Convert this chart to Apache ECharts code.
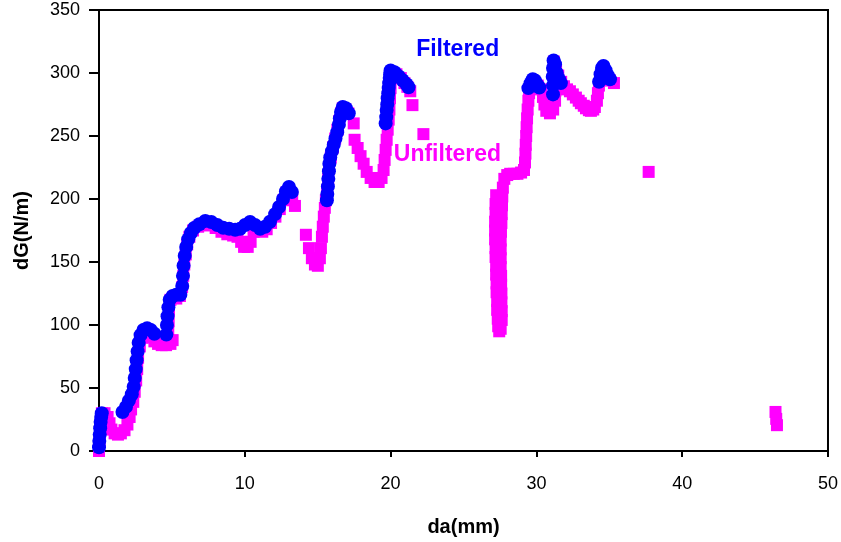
<!DOCTYPE html>
<html>
<head>
<meta charset="utf-8">
<script src="https://cdn.jsdelivr.net/npm/echarts@6/dist/echarts.min.js"></script>
<style>html,body{margin:0;padding:0;background:#fff}#c{width:841px;height:542px}</style>
</head>
<body>
<div id="c"></div>
<script>
// Unfiltered (magenta squares)
const unfilteredX = [0,0,0.04,0.07,0.11,0.15,0.2,0.38,0.59,0.72,0.85,1.07,1.3,1.5,1.75,1.95,2.1,2.2,2.35,2.45,2.55,2.62,2.68,2.8,2.95,3.2,3.5,3.8,4.05,4.3,4.6,4.9,5.05,4.75,4.78,4.8,4.9,5.1,5.3,5.55,5.7,5.78,5.85,5.95,6.05,6.2,6.45,6.8,7.2,7.6,8.0,8.4,8.8,9.2,9.5,9.75,9.95,10.2,10.4,10.6,10.9,11.2,11.5,11.8,12.1,12.4,12.65,12.85,13.05,13.25,13.44,14.19,
  14.4,14.6,14.81,15.01,15.15,15.22,15.29,15.35,15.42,15.49,15.56,15.65,15.72,15.78,15.9,16.05,16.2,16.35,16.48,16.6,16.72,16.9,17.1,17.47,17.53,17.74,17.94,18.15,18.36,18.63,18.9,19.18,19.38,19.52,19.59,19.66,19.73,19.8,19.87,19.92,19.96,20.0,20.05,20.15,20.4,20.7,20.95,21.15,21.35,21.5,22.25,
  27.24,27.2,27.2,27.17,27.17,27.17,27.2,27.2,27.24,27.24,27.27,27.27,27.31,27.31,27.35,27.38,27.45,27.55,27.62,27.62,27.6,27.6,27.58,27.58,27.55,27.55,27.55,27.55,27.57,27.6,27.62,27.64,27.66,27.7,27.8,28.0,28.2,28.45,28.7,28.95,29.15,29.22,29.25,29.27,29.3,29.33,29.36,29.4,29.45,29.5,29.6,29.84,30.1,30.32,30.45,30.55,30.68,30.93,31.15,31.28,31.3,31.32,31.35,31.2,31.5,31.7,31.89,32.1,32.3,32.5,32.71,32.9,33.05,33.25,33.4,33.6,33.74,33.9,34.01,34.15,34.22,34.29,34.4,34.6,34.85,35.05,35.32,
  37.7,46.4,46.45,46.5];
const unfilteredY = [0,3,8,14,20,26,30,30,27,22,17,14,13,14,16.5,21,27,33,39,47,56,65,74,83,90,92,90,87,85,84,84,85,88,95,103,112,120,122,121,123,130,139,148,156,164,170,175,178,180,179,177,174,172,171,170,166,162,162,166,174,176,174,176,181,186,192,199,205,206,202,194.5,171.6,
  161,153,148,147,153,161,170,178,186,193,199,207,216,225,233,241,248,255,262,268,272,271,268,260,247,240.5,234,228,221.5,216.7,213.5,213.5,216.7,223,231,239,247,255,263,271,280,288,296,300,299,296,292,289,285.5,274.5,251.5,
  203,196,189,182,175,168,161,154,147,140,133,126,119,112,105,99,95,97,104,111,118,125,132,139,146,153,160,167,174,181,188,195,202,209,216,219,220,220,220,221,223,229,236,243,250,257,264,271,278,284,289,292,290,287,281,275,270,268,271,278,286,294,302,309,298,293,289.5,287,285.5,283,280.5,278,276,274,272,270.5,270,271,273,278,284,290,296,298,296,294,292,
  221.5,31,25.5,20.5];

// Filtered (blue circles)
const filteredX = [0,0.02,0.05,0.08,0.11,0.15,0.19,1.61,1.85,2.05,2.25,2.38,2.45,2.52,2.58,2.65,2.72,2.85,3.05,3.3,3.55,3.8,4.62,4.66,4.7,4.76,4.85,5.05,5.3,5.58,5.71,5.76,5.8,5.88,5.98,6.12,6.3,6.53,6.88,7.29,7.7,8.11,8.52,8.93,9.34,9.68,10.02,10.36,10.7,11.05,11.39,11.73,12.08,12.35,12.62,12.82,13.03,13.23,
  15.63,15.66,15.7,15.73,15.77,15.8,15.86,15.98,16.1,16.22,16.34,16.45,16.52,16.6,16.72,16.93,17.13,
  19.66,19.7,19.73,19.77,19.8,19.84,19.87,19.9,19.94,19.97,20.0,20.27,20.55,20.82,21.09,21.23,
  29.45,29.6,29.75,29.9,30.05,30.2,31.14,31.14,31.12,31.14,31.18,31.28,31.4,31.55,31.68,34.3,34.4,34.5,34.6,34.75,34.9,35.05];
const filteredY = [3,8,13,18,23,27,30,31,35,40,45,51,58,65,72,79,86,92,96,97.5,96,93,92.4,100,107,114,120,123,124,124,131,139,147,155,162,168,173,177,180,182.6,181.8,179.4,177.1,176.3,175.5,176.3,179.4,181.8,179.4,176.3,178,182,188,193.7,200,206,209.6,205.6,
  199,204,210,216,222,228,233,238,243,248,253,259,264,269,273,272,268,
  260,265,270.6,275,280,284,288,292,296,299,302,300.6,297.5,294.3,291.1,288.7,
  288,292,295,294,291,288.5,283,290,297,304,310,307,300,295,292,293,299,304,305.5,302,298,295];

const xTicks = {min: 0, max: 50, interval: 10};
const yTicks = {min: 0, max: 350, interval: 50};
const labelTexts = [
  {text: 'Filtered', x: 24.6, y: 318.8, color: '#0000FF'},
  {text: 'Unfiltered', x: 23.9, y: 235, color: '#FF00FF'}
];

const zip = (a, b) => a.map((v, i) => [v, b[i]]);
const FONT = "'Liberation Sans', Arial, sans-serif";

const chart = echarts.init(document.getElementById('c'), null, {renderer: 'canvas'});
chart.setOption({
  animation: false,
  backgroundColor: '#fff',
  grid: {left: 99, right: 10, top: 10, bottom: 90, show: true, borderColor: '#000', borderWidth: 2, backgroundColor: 'transparent'},
  xAxis: {
    type: 'value', min: xTicks.min, max: xTicks.max, interval: xTicks.interval,
    name: 'da(mm)', nameLocation: 'middle', nameGap: 66,
    nameTextStyle: {fontFamily: FONT, fontSize: 20, fontWeight: 'bold', color: '#000'},
    axisLine: {show: true, onZero: false, lineStyle: {color: '#000', width: 2}},
    axisTick: {show: true, length: 6, lineStyle: {color: '#000', width: 2}},
    axisLabel: {fontFamily: FONT, fontSize: 18, color: '#000', margin: 24},
    splitLine: {show: false}
  },
  yAxis: {
    type: 'value', min: yTicks.min, max: yTicks.max, interval: yTicks.interval,
    name: 'dG(N/m)', nameLocation: 'middle', nameGap: 67, nameRotate: 90,
    nameTextStyle: {fontFamily: FONT, fontSize: 20, fontWeight: 'bold', color: '#000'},
    axisLine: {show: true, onZero: false, lineStyle: {color: '#000', width: 2}},
    axisTick: {show: true, length: 10, lineStyle: {color: '#000', width: 2}},
    axisLabel: {fontFamily: FONT, fontSize: 18, color: '#000', margin: 19},
    splitLine: {show: false}
  },
  series: [
    {name: 'Unfiltered', type: 'scatter', symbol: 'rect', symbolSize: 12, data: zip(unfilteredX, unfilteredY),
     itemStyle: {color: '#FF00FF', opacity: 1}, large: false, z: 2},
    {name: 'Filtered', type: 'scatter', symbol: 'circle', symbolSize: 14, data: zip(filteredX, filteredY),
     itemStyle: {color: '#0000FF', opacity: 1}, large: false, z: 3}
  ]
});
const graphics = labelTexts.map(l => {
  const p = chart.convertToPixel({gridIndex: 0}, [l.x, l.y]);
  return {type: 'text', x: p[0], y: p[1], z: 10,
    style: {text: l.text, fill: l.color, font: "bold 23px " + FONT, align: 'center', verticalAlign: 'middle'}};
});
chart.setOption({graphic: graphics});
</script>
</body>
</html>
